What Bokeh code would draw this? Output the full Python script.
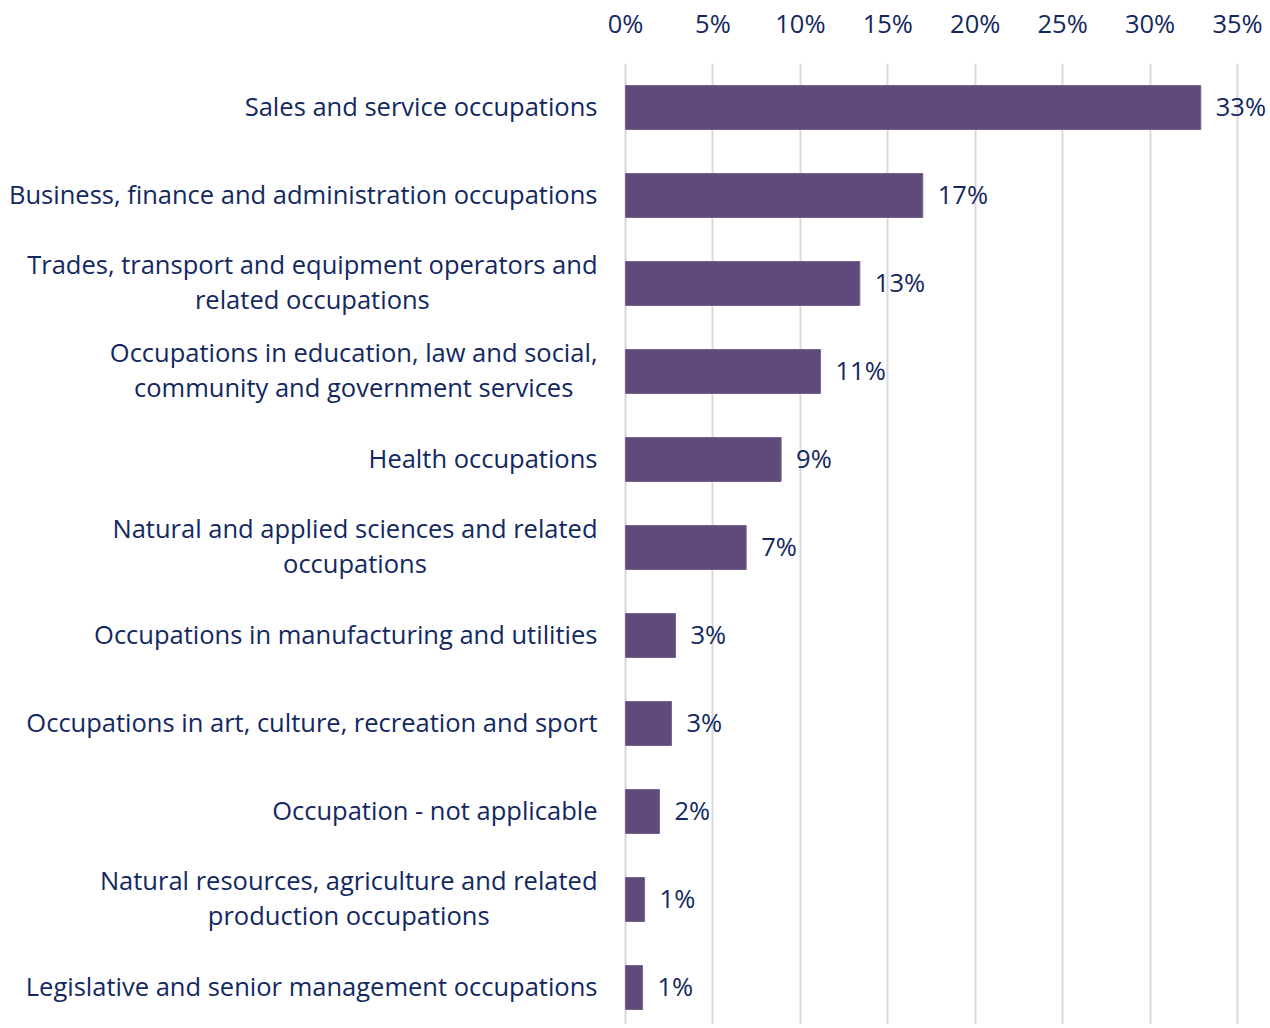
from bokeh.plotting import figure
from bokeh.models import ColumnDataSource, Range1d, FixedTicker, PrintfTickFormatter
from bokeh.core.properties import value
from bokeh.embed import file_html
from bokeh.resources import INLINE

categories = [
    "Sales and service occupations",
    "Business, finance and administration occupations",
    "Trades, transport and equipment operators and\nrelated occupations",
    "Occupations in education, law and social,\ncommunity and government services",
    "Health occupations",
    "Natural and applied sciences and related\noccupations",
    "Occupations in manufacturing and utilities",
    "Occupations in art, culture, recreation and sport",
    "Occupation - not applicable",
    "Natural resources, agriculture and related\nproduction occupations",
    "Legislative and senior management occupations",
]
values = [32.9, 17.0, 13.4, 11.15, 8.9, 6.9, 2.86, 2.63, 1.94, 1.09, 0.97]
value_labels = ["33%", "17%", "13%", "11%", "9%", "7%", "3%", "3%", "2%", "1%", "1%"]
x_ticks = [0, 5, 10, 15, 20, 25, 30, 35]

FONT = "Open Sans"
FSIZE = "25.5px"
TEXT = "#13285F"
BAR = "#604A7B"

# layout geometry (pixels)
W, H = 1268, 1024
TOP = 63
X0_PX = 625          # screen x of 0%
PX_PER_UNIT = 612 / 35
BAND_PX = 88

rows = list(range(len(categories)))
src = ColumnDataSource(dict(row=rows, cat=categories, val=values, lab=value_labels))

x_start = -X0_PX / PX_PER_UNIT
x_end = (W - X0_PX) / PX_PER_UNIT
y_bottom = -0.5 + (H - TOP) / BAND_PX

p = figure(
    width=W, height=H,
    x_range=Range1d(x_start, x_end),
    y_range=Range1d(y_bottom, -0.5),
    x_axis_location="above", y_axis_location=None,
    output_backend="svg", toolbar_location=None,
    min_border_left=0, min_border_right=0, min_border_top=TOP, min_border_bottom=0,
)
p.outline_line_color = None
p.background_fill_color = "white"

p.hbar(y="row", right="val", left=0, height=0.5, source=src,
       fill_color=BAR, line_color="#76628F", line_width=1)

# value labels
p.text(x="val", y="row", text="lab", source=src, x_offset=15, y_offset=-2,
       text_align="left", text_baseline="middle",
       text_font=value(FONT), text_font_size=FSIZE, text_color=TEXT)

# category labels (right-anchored block, centred lines)
p.text(x=0, y="row", text="cat", source=src, x_offset=-28, y_offset=-2,
       anchor=value("center_right"), text_align="center", text_baseline="middle",
       text_line_height=1.05,
       text_font=value(FONT), text_font_size=FSIZE, text_color=TEXT)

xa = p.xaxis[0]
xa.ticker = FixedTicker(ticks=x_ticks)
xa.formatter = PrintfTickFormatter(format="%d%%")
xa.axis_line_color = None
xa.major_tick_line_color = None
xa.minor_tick_line_color = None
xa.major_label_text_font = FONT
xa.major_label_text_font_size = FSIZE
xa.major_label_text_color = TEXT
xa.major_label_standoff = 18

p.xgrid.ticker = FixedTicker(ticks=x_ticks)
p.xgrid.grid_line_color = "#D9D9D9"
p.xgrid.grid_line_width = 2
p.ygrid.grid_line_color = None

open("out.html", "w").write(file_html(p, INLINE))
